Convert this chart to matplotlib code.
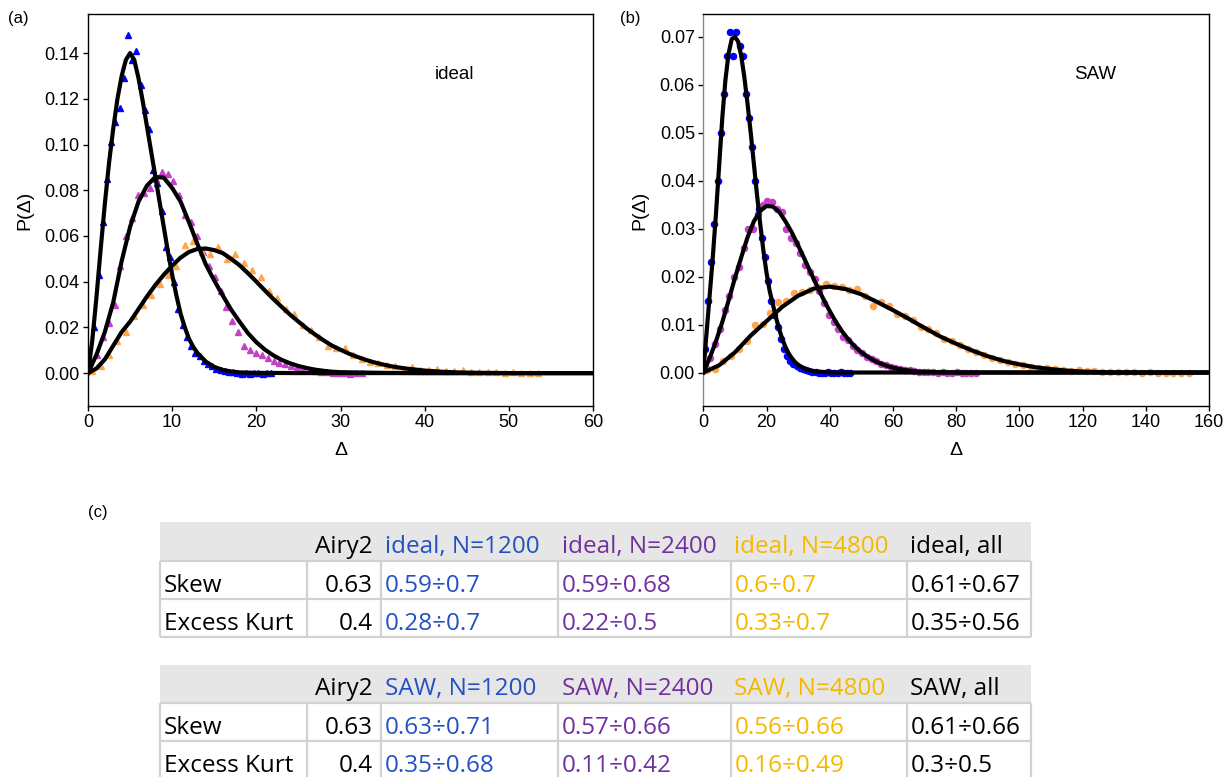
import numpy as np
import matplotlib
matplotlib.use("Agg")
import matplotlib.pyplot as plt
from matplotlib.patches import Rectangle

plt.rcParams['font.family'] = ['Liberation Sans', 'DejaVu Sans']

# ---------------- data: panel (a) ideal ----------------
# scatter (histogram) data: bin start, bin step, values
a_blue_start, a_blue_step = 0.25, 0.5
a_blue_y = [0.005, 0.020, 0.043, 0.066, 0.085, 0.101, 0.110, 0.116, 0.129, 0.148,
            0.137, 0.141, 0.126, 0.115, 0.107, 0.089, 0.083, 0.071, 0.055, 0.051,
            0.040, 0.028, 0.021, 0.016, 0.012, 0.009, 0.0075, 0.0055, 0.004, 0.003,
            0.002, 0.0015, 0.001, 0.0005, 0.0003, 0.0, -0.0005, 0.0002, -0.0003, 0.0,
            0.0002, -0.0002, 0.0, 0.0001]
a_mag_start, a_mag_step = 0.35, 0.7
a_mag_y = [0.002, 0.008, 0.016, 0.022, 0.030, 0.047, 0.060, 0.068, 0.078, 0.079,
           0.081, 0.085, 0.088, 0.087, 0.084, 0.078, 0.069, 0.066, 0.060, 0.053,
           0.047, 0.042, 0.036, 0.029, 0.023, 0.018, 0.012, 0.010, 0.009, 0.008,
           0.0065, 0.0055, 0.0045, 0.004, 0.003, 0.0025, 0.002, 0.0015, 0.001, 0.0006,
           0.0004, 0.0002, 0.0, 0.0001, -0.0002, 0.0, 0.0]
a_org_start, a_org_step = 0.5, 1.0
a_org_y = [0.001, 0.003, 0.008, 0.014, 0.018, 0.025, 0.030, 0.034, 0.039, 0.043,
           0.047, 0.056, 0.058, 0.053, 0.052, 0.055, 0.050, 0.052, 0.048, 0.045,
           0.042, 0.036, 0.033, 0.028, 0.026, 0.021, 0.019, 0.016, 0.012, 0.011,
           0.011, 0.008, 0.006, 0.005, 0.0045, 0.0035, 0.003, 0.002, 0.0025, 0.0015,
           0.0012, 0.002, 0.001, 0.0008, 0.0012, 0.0005, 0.0006, 0.0004, 0.0005, 0.0002,
           0.0004, 0.0001, 0.0002, 0.0]

# fitted curves (a)
a_fit_blue_x = [0, 0.5, 1, 1.5, 2, 2.5, 3, 3.5, 4, 4.5, 5, 5.5, 6, 6.5, 7, 7.5, 8, 8.5,
                9, 9.5, 10, 10.5, 11, 11.5, 12, 12.5, 13, 14, 15, 16, 17, 18, 20, 25, 60]
a_fit_blue_y = [0, 0.014, 0.033, 0.054, 0.074, 0.092, 0.107, 0.120, 0.130, 0.137, 0.140,
                0.137, 0.129, 0.119, 0.108, 0.097, 0.086, 0.075, 0.064, 0.053, 0.043,
                0.034, 0.026, 0.020, 0.015, 0.0115, 0.0088, 0.005, 0.0027, 0.0014,
                0.0007, 0.0003, 0.0001, 0, 0]
a_fit_mag_x = [0, 1, 2, 3, 4, 5, 6, 7, 8, 9, 10, 11, 12, 13, 14, 15, 16, 17, 18, 19, 20,
               21, 22, 23, 24, 25, 26, 27, 28, 29, 30, 35, 40, 60]
a_fit_mag_y = [0, 0.008, 0.018, 0.031, 0.049, 0.064, 0.075, 0.082, 0.0858, 0.0855, 0.081,
               0.075, 0.066, 0.0565, 0.0475, 0.0405, 0.034, 0.0278, 0.0225, 0.0175,
               0.0135, 0.0103, 0.0078, 0.0058, 0.0043, 0.0031, 0.0022, 0.0015, 0.001,
               0.0006, 0.0004, 0.0001, 0, 0]
a_fit_org_x = [0, 1, 2, 3, 4, 5, 6, 7, 8, 9, 10, 11, 12, 13, 14, 15, 16, 17, 18, 19, 20,
               21, 22, 23, 24, 25, 26, 27, 28, 29, 30, 31, 32, 33, 34, 35, 36, 37, 38,
               39, 40, 42, 44, 46, 50, 60]
a_fit_org_y = [0, 0.002, 0.006, 0.012, 0.018, 0.0225, 0.028, 0.0335, 0.0385, 0.043,
               0.047, 0.0505, 0.053, 0.0543, 0.0545, 0.0538, 0.0525, 0.050, 0.0472,
               0.0437, 0.040, 0.0362, 0.0325, 0.029, 0.0256, 0.0225, 0.0195, 0.0168,
               0.0143, 0.012, 0.0102, 0.0085, 0.0071, 0.0058, 0.0047, 0.0038, 0.003,
               0.0024, 0.0019, 0.0015, 0.0011, 0.0006, 0.0003, 0.00015, 0, 0]

# ---------------- data: panel (b) SAW ----------------
b_blue_start, b_blue_step = 0.5, 1.0
b_blue_y = [0.005, 0.015, 0.023, 0.031, 0.040, 0.050, 0.058, 0.066, 0.071, 0.066,
            0.071, 0.068, 0.066, 0.058, 0.053, 0.047, 0.040, 0.034, 0.028, 0.024,
            0.019, 0.015, 0.012, 0.0095, 0.007, 0.005, 0.0035, 0.0025, 0.0018, 0.0013,
            0.001, 0.0007, 0.0005, 0.0003, 0.0002, 0.0001, 0.0, -0.0002, 0.0, 0.0001,
            -0.0001, 0.0, 0.0, 0.0001, 0.0, 0.0, 0.0]
b_mag_start, b_mag_step = 0.75, 1.5
b_mag_y = [0.001, 0.003, 0.006, 0.009, 0.013, 0.016, 0.020, 0.022, 0.026, 0.030,
           0.030, 0.033, 0.035, 0.0357, 0.0355, 0.034, 0.0335, 0.030, 0.028, 0.027,
           0.025, 0.0225, 0.021, 0.0195, 0.017, 0.0145, 0.012, 0.0105, 0.009, 0.0075,
           0.0068, 0.0055, 0.0046, 0.0040, 0.0033, 0.0028, 0.0025, 0.0018, 0.0016, 0.0011,
           0.0009, 0.0008, 0.0005, 0.0006, 0.0003, 0.0002, 0.0002, 0.0001, 0.0001, 0.0,
           0.0001, 0.0, 0.0, 0.0001, 0.0, 0.0, 0.0, 0.0]
b_org_start, b_org_step = 1.25, 2.5
b_org_y = [0.0005, 0.0008, 0.0025, 0.0035, 0.0048, 0.0065, 0.0098, 0.0102, 0.0125, 0.0148,
           0.0150, 0.0165, 0.0168, 0.0172, 0.0178, 0.0185, 0.0180, 0.0178, 0.0172, 0.0175,
           0.0160, 0.0138, 0.0148, 0.0138, 0.0122, 0.0118, 0.0110, 0.0095, 0.0090, 0.0082,
           0.0070, 0.0066, 0.0058, 0.0048, 0.0043, 0.0036, 0.0030, 0.0026, 0.0022, 0.0018,
           0.0015, 0.0012, 0.0010, 0.0009, 0.0007, 0.0005, 0.0004, 0.0005, 0.0003, 0.0003,
           0.0002, 0.0002, 0.0001, 0.0001, 0.0001, 0.0, 0.0001, 0.0, 0.0, 0.0, 0.0, 0.0]

b_fit_blue_x = [0, 1, 2, 3, 4, 5, 6, 7, 8, 9, 10, 11, 12, 13, 14, 15, 16, 17, 18, 19, 20,
                21, 22, 23, 24, 25, 26, 27, 28, 29, 30, 32, 34, 36, 40, 160]
b_fit_blue_y = [0, 0.008, 0.016, 0.024, 0.033, 0.043, 0.053, 0.061, 0.0665, 0.0695, 0.070,
                0.069, 0.066, 0.0615, 0.056, 0.050, 0.0435, 0.037, 0.031, 0.0255, 0.0208,
                0.017, 0.0142, 0.0115, 0.009, 0.007, 0.0053, 0.004, 0.003, 0.0022, 0.0016,
                0.0008, 0.0004, 0.0002, 0, 0]
b_fit_mag_x = [0, 2, 4, 6, 8, 10, 12, 14, 16, 18, 20, 22, 24, 26, 28, 30, 32, 34, 36, 38,
               40, 42, 44, 46, 48, 50, 52, 54, 56, 58, 60, 64, 68, 72, 80, 160]
b_fit_mag_y = [0, 0.003, 0.0065, 0.0105, 0.015, 0.0197, 0.024, 0.0282, 0.0315, 0.0337,
               0.0347, 0.0346, 0.0335, 0.0315, 0.0292, 0.0265, 0.0237, 0.0208, 0.0180,
               0.0153, 0.0128, 0.0105, 0.0085, 0.0068, 0.0054, 0.0042, 0.0033, 0.0025,
               0.0019, 0.0014, 0.0010, 0.0005, 0.0002, 0.0001, 0, 0]
b_fit_org_x = [0, 5, 10, 15, 20, 25, 30, 35, 40, 45, 50, 55, 60, 65, 70, 75, 80, 85, 90,
               95, 100, 105, 110, 115, 120, 125, 130, 160]
b_fit_org_y = [0, 0.0015, 0.0042, 0.0077, 0.0107, 0.0137, 0.016, 0.0175, 0.0179, 0.0174,
               0.0163, 0.0147, 0.0130, 0.0112, 0.0093, 0.0075, 0.006, 0.0046, 0.0034,
               0.0024, 0.0017, 0.0011, 0.0007, 0.0004, 0.0002, 0.0001, 0, 0]

# ---------------- table data ----------------
table_col_headers_ideal = ['', 'Airy2', 'ideal, N=1200', 'ideal, N=2400', 'ideal, N=4800', 'ideal, all']
table_col_headers_saw = ['', 'Airy2', 'SAW, N=1200', 'SAW, N=2400', 'SAW, N=4800', 'SAW, all']
row_labels = ['Skew', 'Excess Kurt']
ideal_rows = [['0.63', '0.59÷0.7', '0.59÷0.68', '0.6÷0.7', '0.61÷0.67'],
              ['0.4', '0.28÷0.7', '0.22÷0.5', '0.33÷0.7', '0.35÷0.56']]
saw_rows = [['0.63', '0.63÷0.71', '0.57÷0.66', '0.56÷0.66', '0.61÷0.66'],
            ['0.4', '0.35÷0.68', '0.11÷0.42', '0.16÷0.49', '0.3÷0.5']]

# ---------------- styles ----------------
C_BLUE = '#0000ff'
C_MAG = '#c440c8'
C_ORG = '#ffa64d'
T_COLORS = ['black', 'black', '#2450c4', '#7030a0', '#f5b800', 'black']

W, H = 1229, 777
fig = plt.figure(figsize=(W / 100, H / 100), dpi=100)


def frac(l, t, r, b):
    return [l / W, (H - b) / H, (r - l) / W, (b - t) / H]


def style_axes(ax, left_gray=False):
    for s in ax.spines.values():
        s.set_linewidth(1.0)
    if left_gray:
        ax.spines['left'].set_color('#888888')
    ax.tick_params(direction='out', length=3.5, width=1, pad=2.5, labelsize=13,
                   top=False, right=False)


# panel (a)
axa = fig.add_axes(frac(88, 14, 593, 406))
for st, sp, ys, c in [(a_blue_start, a_blue_step, a_blue_y, C_BLUE),
                      (a_mag_start, a_mag_step, a_mag_y, C_MAG),
                      (a_org_start, a_org_step, a_org_y, C_ORG)]:
    xs = st + sp * np.arange(len(ys))
    axa.plot(xs, ys, linestyle='none', marker='^', ms=4.8, color=c, mec=c, zorder=2)
for xs, ys in [(a_fit_blue_x, a_fit_blue_y), (a_fit_mag_x, a_fit_mag_y), (a_fit_org_x, a_fit_org_y)]:
    axa.plot(xs, ys, color='black', lw=3, zorder=3, solid_joinstyle='round')
axa.set_xlim(0, 60)
axa.set_ylim(-0.0144, 0.1571)
axa.set_xticks([0, 10, 20, 30, 40, 50, 60])
axa.set_yticks([0.0, 0.02, 0.04, 0.06, 0.08, 0.10, 0.12, 0.14])
axa.yaxis.set_major_formatter(matplotlib.ticker.FormatStrFormatter('%.2f'))
axa.set_xlabel('Δ', fontsize=14, labelpad=8)
axa.set_ylabel('P(Δ)', fontsize=14, labelpad=8)
axa.text(0.725, 0.845, 'ideal', transform=axa.transAxes, fontsize=13.5, ha='center', va='center')
style_axes(axa)

# panel (b)
axb = fig.add_axes(frac(703.3, 14, 1209, 406))
for st, sp, ys, c in [(b_blue_start, b_blue_step, b_blue_y, C_BLUE),
                      (b_mag_start, b_mag_step, b_mag_y, C_MAG),
                      (b_org_start, b_org_step, b_org_y, C_ORG)]:
    xs = st + sp * np.arange(len(ys))
    axb.plot(xs, ys, linestyle='none', marker='o', ms=4.4, color=c, mec=c, zorder=2)
for xs, ys in [(b_fit_blue_x, b_fit_blue_y), (b_fit_mag_x, b_fit_mag_y), (b_fit_org_x, b_fit_org_y)]:
    axb.plot(xs, ys, color='black', lw=3, zorder=3, solid_joinstyle='round')
axb.set_xlim(0, 160)
axb.set_ylim(-0.00698, 0.07473)
axb.set_xticks([0, 20, 40, 60, 80, 100, 120, 140, 160])
axb.set_yticks([0.0, 0.01, 0.02, 0.03, 0.04, 0.05, 0.06, 0.07])
axb.yaxis.set_major_formatter(matplotlib.ticker.FormatStrFormatter('%.2f'))
axb.set_xlabel('Δ', fontsize=14, labelpad=8)
axb.set_ylabel('P(Δ)', fontsize=14, labelpad=8)
axb.text(0.775, 0.845, 'SAW', transform=axb.transAxes, fontsize=13.5, ha='center', va='center')
style_axes(axb, left_gray=True)

# overlay for labels and tables (pixel coordinates)
ov = fig.add_axes([0, 0, 1, 1], zorder=-1)
ov.set_xlim(0, W)
ov.set_ylim(H, 0)
ov.axis('off')
ov.patch.set_alpha(0)

ov.text(18, 18, '(a)', fontsize=12, ha='center', va='center')
ov.text(630, 18, '(b)', fontsize=12, ha='center', va='center')
ov.text(98, 512, '(c)', fontsize=12, ha='center', va='center')

col_edges = [160, 306.5, 381, 557.5, 730.5, 906.5, 1031]
TFONT = ['Open Sans', 'DejaVu Sans']
TSIZE = 17.5
GRID = '#d2d2d2'


def draw_table(top_edges, headers, rows):
    y0, y1, y2, y3 = top_edges
    ov.add_patch(Rectangle((col_edges[0], y0), col_edges[-1] - col_edges[0], y1 - y0,
                           facecolor='#e7e6e6', edgecolor='none'))
    for yy in (y1, y2, y3):
        ov.plot([col_edges[0], col_edges[-1]], [yy, yy], color=GRID, lw=1.6, solid_capstyle='butt')
    for xx in col_edges:
        ov.plot([xx, xx], [y1, y3], color=GRID, lw=1.6, solid_capstyle='butt')
    baselines = [y1 - 8, y2 - 7.5, y3 - 7.5]
    all_rows = [headers] + [[lab] + r for lab, r in zip(row_labels, rows)]
    for ri, row in enumerate(all_rows):
        for ci, txt in enumerate(row):
            if not txt:
                continue
            if ci == 1:
                x, ha = col_edges[2] - 8, 'right'
            else:
                x, ha = col_edges[ci] + 4, 'left'
            ov.text(x, baselines[ri], txt, fontsize=TSIZE, family=TFONT, color=T_COLORS[ci],
                    ha=ha, va='baseline')


draw_table([522, 561, 599, 637], table_col_headers_ideal, ideal_rows)
draw_table([665, 703, 741, 779], table_col_headers_saw, saw_rows)

fig.savefig('out.png', dpi=100)
